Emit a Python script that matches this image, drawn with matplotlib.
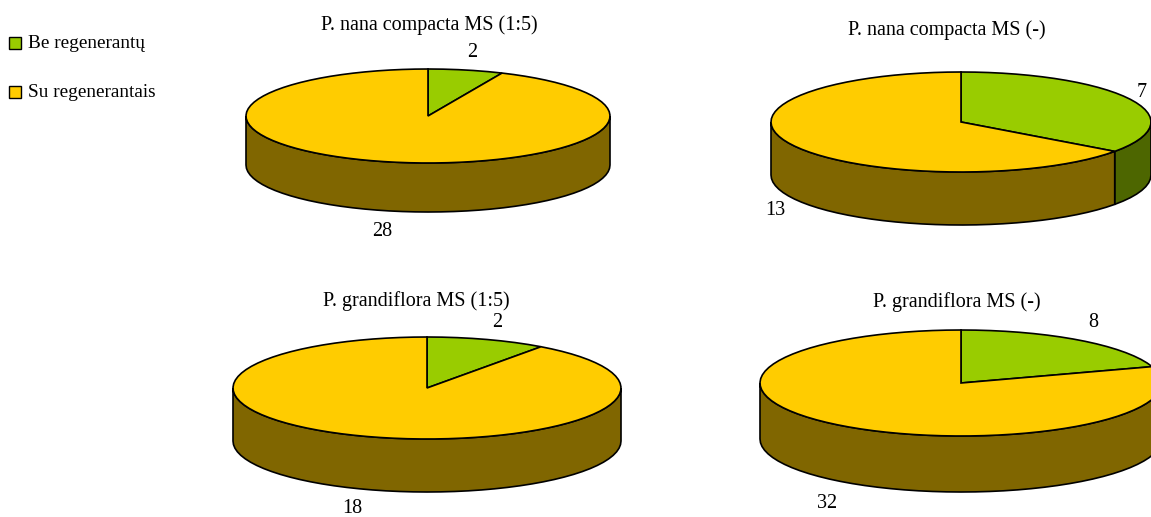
#!/usr/bin/env python3
import numpy as np
import matplotlib
matplotlib.use("Agg")
import matplotlib.pyplot as plt
from matplotlib.patches import Polygon, Rectangle

plt.rcParams["font.family"] = ["Liberation Serif", "DejaVu Serif"]

W, H = 1151, 517

titles = ["P. nana compacta MS (1:5)", "P. nana compacta MS (-)",
          "P. grandiflora MS (1:5)", "P. grandiflora MS (-)"]
without_regen = [2, 7, 2, 8]
with_regen = [28, 13, 18, 32]
legend_labels = ["Be regenerantų", "Su regenerantais"]

GREEN = "#99cc00"
GREEN_DARK = "#4d6600"
YELLOW = "#ffcc00"
YELLOW_DARK = "#806600"
FONT_SIZE = 14.5
LEGEND_SIZE = 13.9

# cx, cy, rx, ry, depth of each pie in pixels
shapes = [(428, 116, 182, 47, 49), (961, 122, 190, 50, 53),
          (427, 388, 194, 51, 53), (961, 383, 201, 53, 56)]
title_pos = [(429, 25), (947, 30), (416, 301), (957, 302)]
small_pos = [(472, 52.5), (1142, 92.5), (497, 322.5), (1093, 322.5)]
large_pos = [(382, 231.5), (775, 210.5), (352, 508.5), (827, 503.5)]


def rim(cx, cy, rx, ry, a0, a1):
    # angles run clockwise from twelve o'clock, coarse steps keep the outline faceted
    t = np.radians(np.linspace(a0, a1, max(int(abs(a1 - a0) / 4), 2)))
    return cx + rx * np.sin(t), cy - ry * np.cos(t)


def side(ax, shape, a0, a1, color):
    # only the front half of the rim (90-270 degrees) has a visible wall
    cx, cy, rx, ry, depth = shape
    a0, a1 = max(a0, 90), min(a1, 270)
    if a1 <= a0:
        return
    x, y = rim(cx, cy, rx, ry, a0, a1)
    pts = np.r_[np.c_[x, y], np.c_[x[::-1], y[::-1] + depth]]
    ax.add_patch(Polygon(pts, fc=color, ec="black", lw=1.2))


def draw_pie(ax, shape, small, large):
    cx, cy, rx, ry, depth = shape
    split = 360 * small / (small + large)
    side(ax, shape, 0, split, GREEN_DARK)
    side(ax, shape, split, 360, YELLOW_DARK)
    for a0, a1, color in [(0, split, GREEN), (split, 360, YELLOW)]:
        x, y = rim(cx, cy, rx, ry, a0, a1)
        pts = np.r_[[[cx, cy]], np.c_[x, y]]
        ax.add_patch(Polygon(pts, fc=color, ec="black", lw=1.2))


fig = plt.figure(figsize=(W / 100, H / 100), dpi=100)
ax = fig.add_axes([0, 0, 1, 1])
ax.set_xlim(0, W)
ax.set_ylim(H, 0)
ax.axis("off")

for i, shape in enumerate(shapes):
    draw_pie(ax, shape, without_regen[i], with_regen[i])
    ax.text(*title_pos[i], titles[i], fontsize=FONT_SIZE, ha="center", va="center")
    ax.text(*small_pos[i], str(without_regen[i]), fontsize=FONT_SIZE, ha="center", va="center")
    ax.text(*large_pos[i], str(with_regen[i]), fontsize=FONT_SIZE, ha="center", va="center")

# legend
for y, label, color in zip([43, 91.5], legend_labels, [GREEN, YELLOW]):
    ax.add_patch(Rectangle((9.5, y - 6), 12, 12, fc=color, ec="black", lw=1.0))
    ax.text(28, y + 1, label, fontsize=LEGEND_SIZE, ha="left", va="center")

fig.savefig("out.png", dpi=100)
